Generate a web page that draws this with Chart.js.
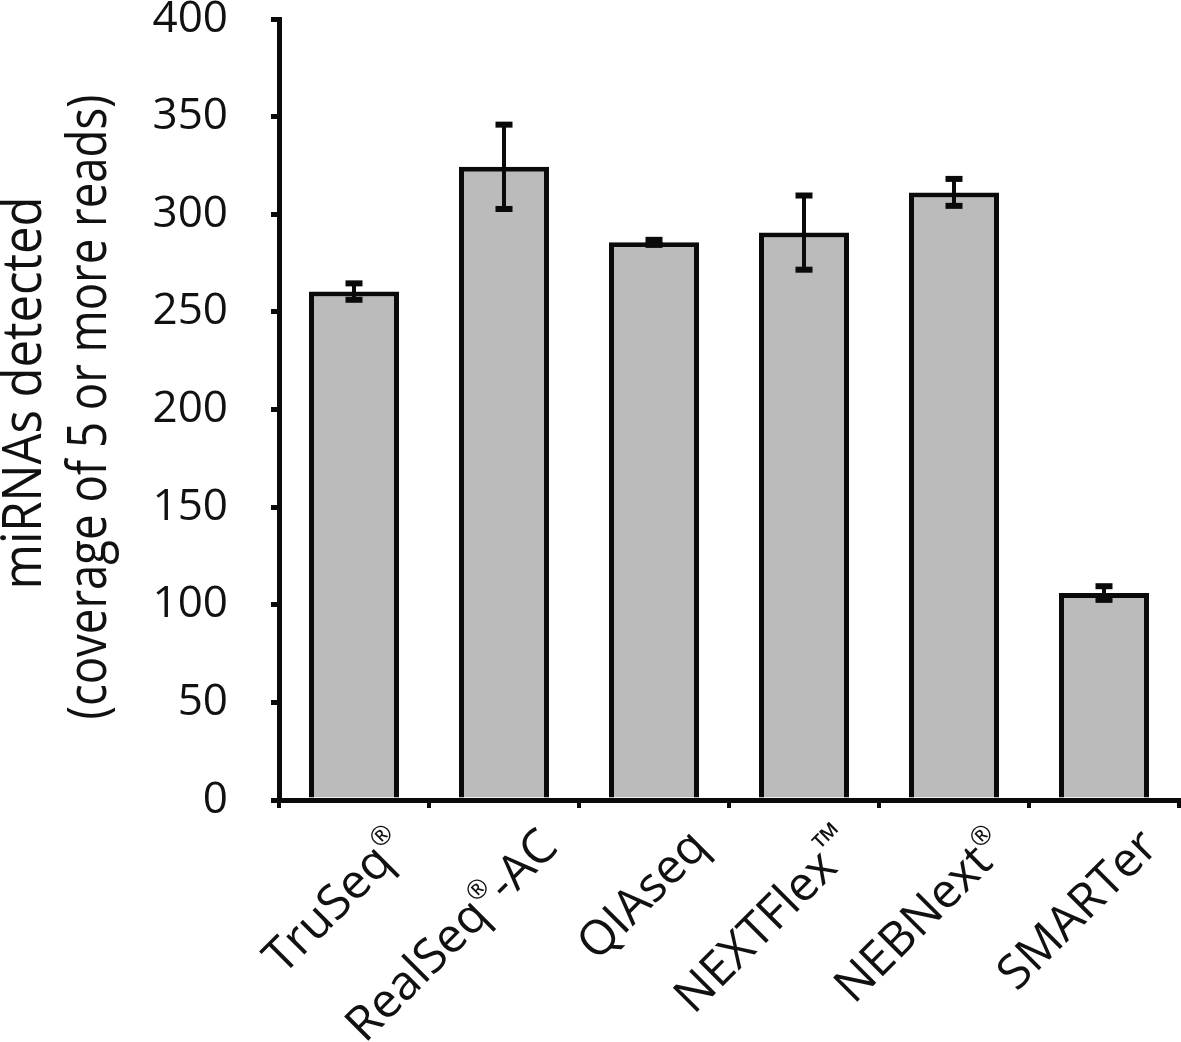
<!DOCTYPE html>
<html>
<head>
<meta charset="utf-8">
<script src="https://cdn.jsdelivr.net/npm/chart.js@4.4.1/dist/chart.umd.min.js"></script>
<style>
html,body{margin:0;padding:0;background:#fff;}
#wrap{width:1181px;height:1042px;position:relative;}
</style>
</head>
<body>
<div id="wrap"><canvas id="c" width="1181" height="1042"></canvas></div>
<script>
// ---- data ----
const categories = ['TruSeq', 'RealSeq-AC', 'QIAseq', 'NEXTFlex', 'NEBNext', 'SMARTer'];
// label pieces: [text, isSuperscript]
const labelParts = [
  [['TruSeq', 0], ['®', 1]],
  [['RealSeq', 0], ['®', 1], ['-AC', 0]],
  [['QIAseq', 0]],
  [['NEXTFlex', 0], ['™', 1]],
  [['NEBNext', 0], ['®', 1]],
  [['SMARTer', 0]]
];
const values = [260.4, 324.3, 285.6, 290.6, 311.2, 106.0];
const errors = [4.2, 21.6, 1.3, 19.0, 6.9, 3.5];
const yTicksMin = 0, yTicksMax = 400, yTicksStep = 50;
const yTitleLines = ['miRNAs detected', '(coverage of 5 or more reads)'];

const INK = '#111111';

const whiteBg = {
  id: 'whiteBg',
  beforeDraw(chart) {
    const ctx = chart.ctx;
    ctx.save();
    ctx.fillStyle = '#ffffff';
    ctx.fillRect(0, 0, chart.width, chart.height);
    ctx.restore();
  }
};

const errorBars = {
  id: 'errorBars',
  afterDatasetsDraw(chart) {
    const ctx = chart.ctx;
    const y = chart.scales.y;
    const meta = chart.getDatasetMeta(0);
    ctx.save();
    ctx.fillStyle = '#0a0a0a';
    meta.data.forEach((bar, i) => {
      const x = bar.x;
      const top = y.getPixelForValue(values[i] + errors[i]);
      const bot = y.getPixelForValue(values[i] - errors[i]);
      ctx.fillRect(x - 2, top, 4, bot - top);
      ctx.fillRect(x - 8.5, top - 3, 17, 6);
      ctx.fillRect(x - 8.5, bot - 3, 17, 6);
    });
    ctx.restore();
  }
};

const xLabels = {
  id: 'xLabels',
  afterDraw(chart) {
    const ctx = chart.ctx;
    const xs = chart.scales.x;
    const mainFont = '48px "Open Sans"';
    const supFont = (t) => (t === '™' ? '38px "Open Sans"' : '26px "Open Sans"');
    ctx.save();
    ctx.fillStyle = INK;
    ctx.textBaseline = 'alphabetic';
    ctx.textAlign = 'left';
    labelParts.forEach((parts, i) => {
      const cx = xs.getPixelForValue(i);
      let total = 0;
      const widths = parts.map(([t, s]) => {
        ctx.font = s ? supFont(t) : mainFont;
        const w = ctx.measureText(t).width;
        total += w;
        return w;
      });
      ctx.save();
      ctx.translate(cx + 56, 849);
      ctx.rotate(-Math.PI / 4);
      let x = -total;
      parts.forEach(([t, s], k) => {
        ctx.font = s ? supFont(t) : mainFont;
        ctx.fillText(t, x, s ? (t === '™' ? -14 : -21) : 0);
        x += widths[k];
      });
      ctx.restore();
    });
    ctx.restore();
  }
};

const yTitle = {
  id: 'yTitle',
  afterDraw(chart) {
    const ctx = chart.ctx;
    const specs = [
      { x: 41, cy: 393, len: 393 },
      { x: 106, cy: 407, len: 625 }
    ];
    ctx.save();
    ctx.fillStyle = INK;
    ctx.font = '54px "Open Sans"';
    ctx.textAlign = 'center';
    ctx.textBaseline = 'alphabetic';
    yTitleLines.forEach((line, i) => {
      const s = specs[i];
      const w = ctx.measureText(line).width;
      ctx.save();
      ctx.translate(s.x, s.cy);
      ctx.rotate(-Math.PI / 2);
      ctx.scale(s.len / w, 1);
      ctx.fillText(line, 0, 0);
      ctx.restore();
    });
    ctx.restore();
  }
};

new Chart(document.getElementById('c'), {
  type: 'bar',
  data: {
    labels: categories,
    datasets: [{
      data: values,
      backgroundColor: '#bbbbbb',
      borderColor: '#0a0a0a',
      borderWidth: 5,
      barPercentage: 0.6,
      categoryPercentage: 1.0
    }]
  },
  options: {
    responsive: false,
    devicePixelRatio: 1,
    animation: false,
    layout: { padding: { top: 19, right: 2, left: 0, bottom: 0 } },
    plugins: { legend: { display: false }, tooltip: { enabled: false } },
    scales: {
      x: {
        grid: { offset: true, drawOnChartArea: false, drawTicks: true, tickLength: 8, lineWidth: 4, color: '#0a0a0a' },
        border: { display: true, color: '#0a0a0a', width: 5 },
        ticks: { display: false },
        afterFit(s) { s.height = 242; s.paddingLeft = 0; s.paddingRight = 0; }
      },
      y: {
        min: yTicksMin,
        max: yTicksMax,
        ticks: {
          stepSize: yTicksStep,
          color: INK,
          font: { family: 'Open Sans', size: 44 },
          padding: 43
        },
        grid: { drawOnChartArea: false, drawTicks: true, tickLength: 8, lineWidth: 5, color: '#0a0a0a' },
        border: { display: true, color: '#0a0a0a', width: 5 },
        afterFit(s) { s.width = 279; s.paddingTop = 0; s.paddingBottom = 0; }
      }
    }
  },
  plugins: [whiteBg, errorBars, xLabels, yTitle]
});
</script>
</body>
</html>
